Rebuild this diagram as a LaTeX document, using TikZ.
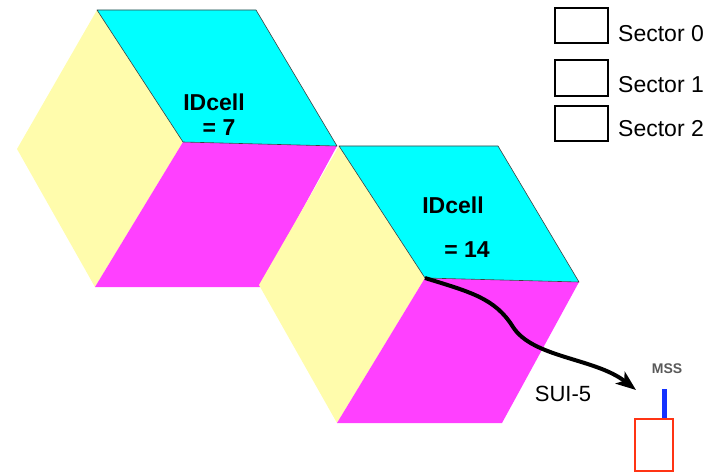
\documentclass[tikz,border=0pt]{standalone}
\usepackage{fontspec}
\setmainfont{Liberation Sans}
\usetikzlibrary{arrows.meta}
\definecolor{cellcyan}{RGB}{0,255,255}
\definecolor{cellyellow}{RGB}{255,252,172}
\definecolor{cellmagenta}{RGB}{255,64,255}
\definecolor{mssred}{RGB}{255,52,20}
\definecolor{mssblue}{RGB}{20,50,255}

\begin{document}
\begin{tikzpicture}[x=1pt,y=-1pt,inner sep=0pt,
  cell label/.style={font=\fontsize{23}{27}\selectfont\bfseries,anchor=base},
  legend label/.style={font=\fontsize{23}{27}\selectfont,anchor=base west}]
\tikzstyle{sector top} = [fill=cellcyan,draw=black!75,line width=0.6pt,line join=round]
\tikzstyle{sector left} = [fill=cellyellow]
\tikzstyle{sector low} = [fill=cellmagenta]
\tikzstyle{legend box} = [draw=black,line width=1.4pt]

\useasboundingbox (0,0) rectangle (719,473);

% Centres of the two cells
\coordinate (cellseven) at (183,142);
\coordinate (cellfourteen) at (425,278);

% Three sectors per cell
\foreach \cell in {cellseven, cellfourteen} {
  \begin{scope}[shift={(\cell)}]
    \fill[sector left] (-86,-132) -- (0,0) -- (-88,145) -- (-166,7) -- cycle;
    \fill[sector low] (0,0) -- (154,4) -- (77,145) -- (-88,145) -- cycle;
    \filldraw[sector top] (-86,-132) -- (73,-132) -- (154,4) -- (0,0) -- cycle;
  \end{scope}
}

% Cell ids
\node[cell label] (idseven) at (214,111) {IDcell};
\node[cell label] (eqseven) at (219,136) {= 7};
\node[cell label] (idfourteen) at (453,213) {IDcell};
\node[cell label] (eqfourteen) at (467,257) {= 14};

% Legend
\draw[legend box] (555,8) rectangle (608,43);
\node[legend label] (sec0) at (618,42) {Sector 0};
\draw[legend box] (555,60) rectangle (608,96);
\node[legend label] (sec1) at (618,93) {Sector 1};
\draw[legend box] (555,106) rectangle (608,141);
\node[legend label] (sec2) at (618,137) {Sector 2};

% Mobile station
\coordinate (tip) at (636,390);
\draw[draw=mssred,line width=1.6pt] (635,419) rectangle (673,471);
\draw[draw=mssblue,line width=5pt] (664,389) -- (664,418);
\node[font=\fontsize{14}{16}\selectfont\bfseries,text=black!65,anchor=base] (mss) at (667,373) {MSS};

% Path of the terminal
\draw[line width=4pt,-{Stealth[length=20pt,width=15pt,inset=5pt]}] (cellfourteen)
  .. controls (470,292) and (495,298) .. (513,327)
  .. controls (533,358) and (595,358) .. (tip);
\node[font=\fontsize{22}{26}\selectfont,anchor=base] (sui) at (563,401) {SUI-5};

\end{tikzpicture}
\end{document}
